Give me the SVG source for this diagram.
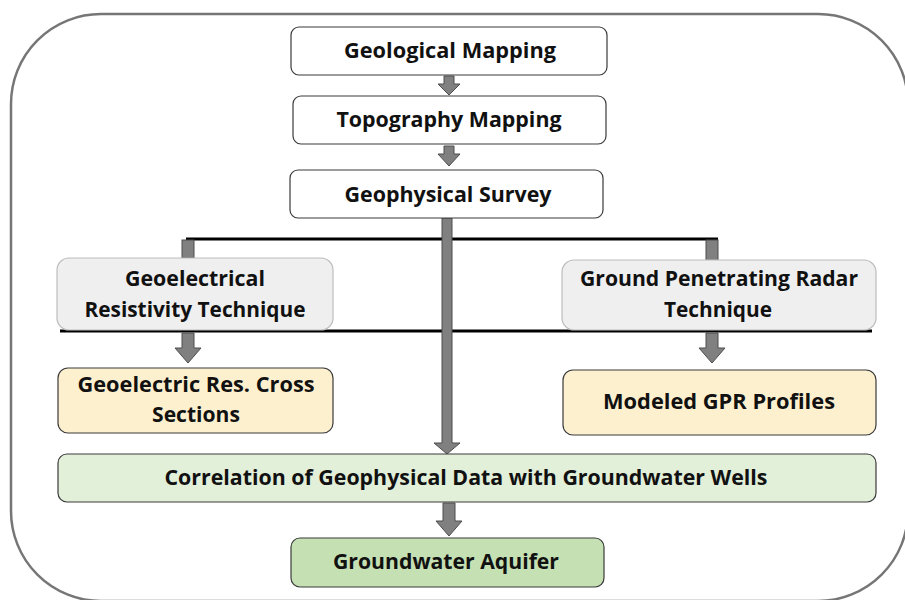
<svg xmlns="http://www.w3.org/2000/svg" width="905" height="600" viewBox="0 0 905 600">
  <style>
    .frame { fill: #ffffff; stroke: #767676; stroke-width: 2.5; }
    .box { stroke: #3a3a3a; stroke-width: 1.2; }
    .white { fill: #ffffff; }
    .grey { fill: #efefef; stroke: #bdbdbd; stroke-width: 1.2; }
    .yellow { fill: #fdf0cf; }
    .lgreen { fill: #e2efd9; }
    .green { fill: #c5e0b3; }
    .arrow { fill: #808080; stroke: #4d4d4d; stroke-width: 1; }
    .bar { stroke: #000000; stroke-width: 3; fill: none; }
    text { font-family: "Open Sans", "Liberation Sans", sans-serif; font-weight: bold; font-size: 21px; fill: #111111; text-anchor: middle; }
  </style>

  <!-- outer rounded frame -->
  <rect class="frame" x="11" y="14" width="897" height="587" rx="90" ry="90"/>

  <!-- connectors -->
  <g id="connectors">
    <line class="bar" x1="186" y1="239" x2="718" y2="239"/>
    <line class="bar" x1="60" y1="331" x2="872" y2="331"/>
    <!-- geological -> topography -->
    <polygon class="arrow" points="444,76 454,76 454,84 460,84 449,95 438,84 444,84"/>
    <!-- topography -> geophysical -->
    <polygon class="arrow" points="444,146 454,146 454,154 460,154 449,166 438,154 444,154"/>
    <!-- geophysical -> correlation -->
    <polygon class="arrow" points="442,218 452,218 452,443 460,443 447,454 434,443 442,443"/>
    <!-- branch stubs -->
    <rect class="arrow" x="182" y="240" width="12" height="18"/>
    <rect class="arrow" x="706" y="240" width="12" height="21"/>
    <!-- techniques -> results -->
    <polygon class="arrow" points="182,333 194,333 194,348 201,348 188,363 175,348 182,348"/>
    <polygon class="arrow" points="706,333 718,333 718,348 725,348 712,363 699,348 706,348"/>
    <!-- correlation -> aquifer -->
    <polygon class="arrow" points="443,503 455,503 455,521 462,521 449,536 436,521 443,521"/>
  </g>

  <g id="geological-mapping">
    <rect class="box white" x="291" y="27" width="316" height="48" rx="8"/>
    <text x="450" y="58" textLength="212" lengthAdjust="spacingAndGlyphs">Geological Mapping</text>
  </g>

  <g id="topography-mapping">
    <rect class="box white" x="293" y="96" width="313" height="48" rx="8"/>
    <text x="449" y="127" textLength="225" lengthAdjust="spacingAndGlyphs">Topography Mapping</text>
  </g>

  <g id="geophysical-survey">
    <rect class="box white" x="290" y="170" width="313" height="48" rx="8"/>
    <text x="448" y="202" textLength="207" lengthAdjust="spacingAndGlyphs">Geophysical Survey</text>
  </g>

  <g id="geoelectrical-resistivity">
    <rect class="grey" x="57" y="258" width="276" height="72" rx="12"/>
    <text x="195" y="286" textLength="140" lengthAdjust="spacingAndGlyphs">Geoelectrical</text>
    <text x="195" y="317" textLength="221" lengthAdjust="spacingAndGlyphs">Resistivity Technique</text>
  </g>

  <g id="ground-penetrating-radar">
    <rect class="grey" x="562" y="260" width="314" height="70" rx="12"/>
    <text x="719" y="286" textLength="278" lengthAdjust="spacingAndGlyphs">Ground Penetrating Radar</text>
    <text x="718" y="317" textLength="108" lengthAdjust="spacingAndGlyphs">Technique</text>
  </g>

  <g id="geoelectric-cross-sections">
    <rect class="box yellow" x="58" y="368" width="275" height="65" rx="10"/>
    <text x="196" y="392" textLength="237" lengthAdjust="spacingAndGlyphs">Geoelectric Res. Cross</text>
    <text x="196" y="422" textLength="88" lengthAdjust="spacingAndGlyphs">Sections</text>
  </g>

  <g id="modeled-gpr-profiles">
    <rect class="box yellow" x="563" y="370" width="313" height="65" rx="10"/>
    <text x="719" y="409" textLength="232" lengthAdjust="spacingAndGlyphs">Modeled GPR Profiles</text>
  </g>

  <g id="correlation">
    <rect class="box lgreen" x="58" y="454" width="818" height="48" rx="9"/>
    <text x="466" y="485" textLength="603" lengthAdjust="spacingAndGlyphs">Correlation of Geophysical Data with Groundwater Wells</text>
  </g>

  <g id="groundwater-aquifer">
    <rect class="box green" x="291" y="538" width="313" height="49" rx="9"/>
    <text x="446" y="569" textLength="226" lengthAdjust="spacingAndGlyphs">Groundwater Aquifer</text>
  </g>
</svg>
